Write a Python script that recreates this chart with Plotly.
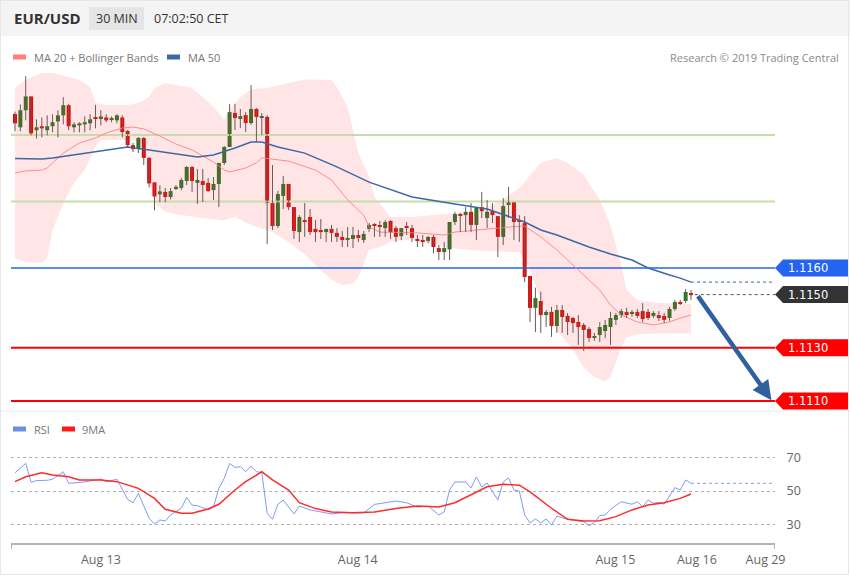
import plotly.graph_objects as go

# ---------------- data ----------------
opens = [1.12179, 1.12129, 1.12193, 1.12245, 1.12118, 1.12133, 1.12118, 1.12133, 1.12151, 1.12174,
         1.12212, 1.12129, 1.12136, 1.12140, 1.12144, 1.12166, 1.12163, 1.12166, 1.12157, 1.12155,
         1.12166, 1.12115, 1.12062, 1.12047, 1.12089, 1.12014, 1.11922, 1.11877, 1.11886, 1.11867,
         1.11897, 1.11901, 1.11927, 1.11980, 1.11920, 1.11927, 1.11920, 1.11893, 1.11916, 1.11995,
         1.12055, 1.12183, 1.12160, 1.12175, 1.12145, 1.12198, 1.12165, 1.12168, 1.11844, 1.11758,
         1.11871, 1.11916, 1.11829, 1.11735, 1.11780, 1.11792, 1.11747, 1.11743, 1.11735, 1.11747,
         1.11732, 1.11717, 1.11709, 1.11709, 1.11724, 1.11705, 1.11747, 1.11765, 1.11760, 1.11750,
         1.11777, 1.11750, 1.11720, 1.11758, 1.11750, 1.11707, 1.11703, 1.11702, 1.11717, 1.11675,
         1.11660, 1.11670, 1.11773, 1.11803, 1.11799, 1.11811, 1.11762, 1.11829, 1.11788, 1.11814,
         1.11795, 1.11717, 1.11837, 1.11848, 1.11777, 1.11769, 1.11570, 1.11450, 1.11476, 1.11423,
         1.11435, 1.11382, 1.11442, 1.11420, 1.11412, 1.11397, 1.11386, 1.11371, 1.11337, 1.11348,
         1.11363, 1.11378, 1.11405, 1.11423, 1.11435, 1.11427, 1.11435, 1.11438, 1.11435, 1.11420,
         1.11423, 1.11420, 1.11412, 1.11446, 1.11472, 1.11476, 1.11506]
highs = [1.12188, 1.12215, 1.12321, 1.12245, 1.12159, 1.12166, 1.12174, 1.12178, 1.12193, 1.12242,
         1.12216, 1.12148, 1.12148, 1.12170, 1.12178, 1.12213, 1.12193, 1.12178, 1.12170, 1.12178,
         1.12174, 1.12119, 1.12070, 1.12092, 1.12092, 1.12017, 1.11922, 1.11911, 1.11901, 1.11901,
         1.11912, 1.11938, 1.11983, 1.11983, 1.11972, 1.11972, 1.11938, 1.11942, 1.11995, 1.12059,
         1.12217, 1.12217, 1.12198, 1.12186, 1.12288, 1.12202, 1.12183, 1.12175, 1.11987, 1.11890,
         1.11946, 1.11916, 1.11829, 1.11799, 1.11844, 1.11822, 1.11780, 1.11784, 1.11747, 1.11762,
         1.11750, 1.11739, 1.11754, 1.11754, 1.11743, 1.11739, 1.11769, 1.11769, 1.11777, 1.11780,
         1.11780, 1.11758, 1.11750, 1.11773, 1.11762, 1.11724, 1.11724, 1.11720, 1.11724, 1.11686,
         1.11698, 1.11773, 1.11811, 1.11807, 1.11829, 1.11844, 1.11829, 1.11886, 1.11856, 1.11844,
         1.11795, 1.11863, 1.11905, 1.11848, 1.11799, 1.11795, 1.11570, 1.11526, 1.11511, 1.11442,
         1.11454, 1.11461, 1.11461, 1.11431, 1.11416, 1.11423, 1.11393, 1.11378, 1.11356, 1.11397,
         1.11405, 1.11435, 1.11431, 1.11446, 1.11450, 1.11442, 1.11446, 1.11468, 1.11446, 1.11438,
         1.11438, 1.11431, 1.11454, 1.11480, 1.11480, 1.11521, 1.11517]
lows = [1.12114, 1.12114, 1.12155, 1.12099, 1.12087, 1.12091, 1.12099, 1.12110, 1.12091, 1.12140,
        1.12118, 1.12110, 1.12110, 1.12110, 1.12118, 1.12125, 1.12136, 1.12148, 1.12148, 1.12144,
        1.12091, 1.12051, 1.12036, 1.12032, 1.11987, 1.11903, 1.11817, 1.11847, 1.11847, 1.11858,
        1.11893, 1.11893, 1.11912, 1.11886, 1.11841, 1.11848, 1.11886, 1.11856, 1.11829, 1.11987,
        1.12055, 1.12119, 1.12126, 1.12111, 1.12138, 1.12074, 1.12100, 1.11690, 1.11743, 1.11750,
        1.11822, 1.11818, 1.11709, 1.11698, 1.11717, 1.11724, 1.11698, 1.11709, 1.11698, 1.11698,
        1.11698, 1.11679, 1.11679, 1.11675, 1.11698, 1.11694, 1.11735, 1.11717, 1.11717, 1.11717,
        1.11709, 1.11698, 1.11705, 1.11724, 1.11698, 1.11679, 1.11679, 1.11694, 1.11655, 1.11630,
        1.11630, 1.11630, 1.11762, 1.11735, 1.11735, 1.11735, 1.11705, 1.11788, 1.11750, 1.11769,
        1.11641, 1.11686, 1.11788, 1.11705, 1.11698, 1.11547, 1.11397, 1.11359, 1.11356, 1.11378,
        1.11341, 1.11356, 1.11356, 1.11348, 1.11356, 1.11311, 1.11288, 1.11322, 1.11326, 1.11322,
        1.11337, 1.11311, 1.11386, 1.11412, 1.11412, 1.11416, 1.11412, 1.11397, 1.11405, 1.11412,
        1.11401, 1.11393, 1.11401, 1.11438, 1.11461, 1.11468, 1.11480]
closes = [1.12144, 1.12193, 1.12245, 1.12106, 1.12129, 1.12125, 1.12133, 1.12148, 1.12174, 1.12212,
          1.12133, 1.12140, 1.12144, 1.12148, 1.12159, 1.12161, 1.12170, 1.12155, 1.12163, 1.12174,
          1.12111, 1.12062, 1.12047, 1.12089, 1.12014, 1.11918, 1.11869, 1.11888, 1.11867, 1.11889,
          1.11905, 1.11931, 1.11980, 1.11927, 1.11931, 1.11912, 1.11889, 1.11916, 1.11995, 1.12055,
          1.12186, 1.12164, 1.12171, 1.12145, 1.12198, 1.12168, 1.12168, 1.11844, 1.11758, 1.11878,
          1.11916, 1.11829, 1.11739, 1.11792, 1.11773, 1.11735, 1.11735, 1.11735, 1.11747, 1.11732,
          1.11717, 1.11705, 1.11713, 1.11724, 1.11713, 1.11728, 1.11762, 1.11758, 1.11756, 1.11773,
          1.11735, 1.11717, 1.11750, 1.11754, 1.11713, 1.11705, 1.11701, 1.11717, 1.11679, 1.11660,
          1.11675, 1.11773, 1.11803, 1.11799, 1.11811, 1.11762, 1.11829, 1.11814, 1.11811, 1.11799,
          1.11717, 1.11833, 1.11848, 1.11773, 1.11773, 1.11566, 1.11450, 1.11487, 1.11423, 1.11435,
          1.11382, 1.11442, 1.11416, 1.11397, 1.11393, 1.11378, 1.11367, 1.11337, 1.11344, 1.11378,
          1.11386, 1.11412, 1.11423, 1.11438, 1.11423, 1.11435, 1.11420, 1.11408, 1.11412, 1.11431,
          1.11412, 1.11405, 1.11446, 1.11472, 1.11465, 1.11510, 1.11498]

# Bollinger bands / moving averages, sampled at bar indices
band_upper_idx = [0, 2, 5, 7, 10, 12, 14, 15, 17, 21, 23, 25, 26, 28, 30, 33, 35, 37, 39, 40, 42, 44, 47,
                  54, 59, 60, 62, 63, 64, 66, 67, 69, 70, 74, 82, 86, 91, 94, 96, 98, 101, 103, 106,
                  109, 111, 113, 114, 116, 120, 126]
band_upper = [1.12277, 1.12307, 1.12333, 1.12333, 1.12318, 1.12307, 1.12280, 1.12220, 1.12213, 1.12213,
              1.12220, 1.12243, 1.12277, 1.12295, 1.12288, 1.12277, 1.12243, 1.12205, 1.12156, 1.12196,
              1.12242, 1.12272, 1.12277, 1.12309, 1.12307, 1.12280, 1.12205, 1.12119, 1.12032, 1.11942,
              1.11867, 1.11818, 1.11792, 1.11792, 1.11807, 1.11811, 1.11856, 1.11901, 1.11950, 1.11995,
              1.12014, 1.11995, 1.11950, 1.11856, 1.11762, 1.11611, 1.11516, 1.11480, 1.11468, 1.11465]
band_lower_idx = [0, 2, 5, 6, 7, 9, 11, 13, 15, 16, 18, 22, 24, 25, 26, 28, 31, 35, 39, 41, 44, 48, 51,
                  54, 56, 59, 61, 63, 64, 65, 66, 68, 70, 74, 80, 86, 94, 95, 96, 98, 101, 104, 106,
                  108, 110, 111, 112, 113, 114, 116, 120, 126]
band_lower = [1.11638, 1.11623, 1.11619, 1.11638, 1.11743, 1.11844, 1.11920, 1.11968, 1.12055, 1.12081,
              1.12081, 1.12081, 1.12062, 1.11922, 1.11844, 1.11811, 1.11799, 1.11788, 1.11780, 1.11792,
              1.11762, 1.11735, 1.11698, 1.11651, 1.11610, 1.11557, 1.11535, 1.11542, 1.11565, 1.11621,
              1.11670, 1.11678, 1.11700, 1.11708, 1.11678, 1.11666, 1.11659, 1.11633, 1.11595, 1.11480,
              1.11366, 1.11294, 1.11227, 1.11189, 1.11174, 1.11189, 1.11245, 1.11302, 1.11339, 1.11351,
              1.11354, 1.11354]
ma20_idx = [0, 2, 5, 6, 7, 9, 12, 15, 17, 20, 22, 24, 27, 30, 33, 35, 37, 39, 40, 43, 45, 46, 48, 51,
            56, 59, 62, 65, 66, 68, 75, 80, 82, 88, 92, 95, 98, 101, 105, 109, 111, 113, 116, 119,
            122, 124, 126]
ma20 = [1.11957, 1.11965, 1.11968, 1.11976, 1.11995, 1.12032, 1.12070, 1.12089, 1.12108, 1.12126,
        1.12130, 1.12123, 1.12096, 1.12066, 1.12044, 1.12021, 1.11998, 1.11968, 1.11961, 1.11976,
        1.11995, 1.12014, 1.12010, 1.12002, 1.11968, 1.11931, 1.11856, 1.11799, 1.11754, 1.11735,
        1.11732, 1.11724, 1.11735, 1.11747, 1.11754, 1.11758, 1.11717, 1.11668, 1.11592, 1.11517,
        1.11461, 1.11423, 1.11397, 1.11386, 1.11397, 1.11412, 1.11423]
ma50_idx = [0, 5, 7, 13, 21, 25, 34, 37, 41, 44, 46, 49, 54, 60, 66, 74, 79, 82, 88, 95, 98, 101, 107,
            111, 115, 118, 122, 124, 126]
ma50 = [1.12012, 1.12010, 1.12014, 1.12032, 1.12055, 1.12044, 1.12017, 1.12025, 1.12051, 1.12074,
        1.12074, 1.12055, 1.12032, 1.11980, 1.11923, 1.11867, 1.11852, 1.11841, 1.11822, 1.11773,
        1.11743, 1.11724, 1.11679, 1.11653, 1.11630, 1.11600, 1.11574, 1.11562, 1.11547]

# RSI panel
rsi_idx = [0, 2, 3, 4, 6, 7, 9, 10, 13, 16, 17, 19, 21, 22, 23, 25, 26, 27, 28, 29, 31, 32, 33, 34, 36,
           37, 38, 39, 40, 41, 42, 43, 44, 45, 46, 47, 48, 49, 50, 52, 53, 55, 57, 59, 61, 63, 65, 67,
           69, 71, 73, 75, 77, 79, 80, 81, 82, 84, 85, 86, 87, 88, 90, 91, 92, 93, 94, 95, 96, 97, 98,
           99, 100, 101, 103, 106, 107, 108, 109, 110, 111, 113, 115, 116, 117, 118, 119, 120, 121,
           122, 123, 124, 125, 126]
rsi = [60.9, 66.5, 55.2, 56.2, 56.4, 57.0, 61.5, 54.6, 55.4, 57.2, 55.6, 57.0, 45.0, 43.0, 48.6, 33.7,
       30.3, 32.7, 32.1, 35.7, 39.7, 46.2, 41.6, 41.2, 38.7, 40.6, 51.6, 57.6, 66.5, 64.1, 64.5, 61.5,
       64.9, 61.5, 61.1, 36.7, 33.1, 42.1, 44.6, 36.3, 41.0, 38.7, 37.5, 36.3, 37.0, 36.9, 36.9, 42.0,
       43.0, 44.0, 43.0, 40.4, 41.0, 35.7, 37.5, 50.6, 55.4, 55.4, 51.8, 58.4, 52.4, 54.8, 44.6, 55.4,
       57.8, 50.6, 50.0, 35.7, 30.9, 33.3, 31.0, 33.3, 29.7, 35.0, 33.1, 31.7, 29.3, 31.3, 35.3, 35.7,
       39.1, 43.6, 42.1, 43.6, 40.6, 44.6, 42.7, 43.3, 42.1, 47.0, 52.0, 50.6, 56.6, 54.6]
rsi_ma_idx = [0, 2, 5, 7, 10, 12, 16, 19, 23, 26, 28, 31, 33, 36, 38, 41, 43, 46, 48, 51, 53, 56, 59,
              63, 67, 71, 75, 79, 82, 85, 88, 91, 94, 96, 98, 100, 103, 106, 109, 112, 115, 118, 121,
              124, 126]
rsi_ma = [55.6, 58.5, 60.9, 59.6, 58.5, 56.6, 56.6, 55.6, 51.6, 45.6, 39.1, 36.7, 36.7, 39.3, 42.1,
          50.6, 55.6, 61.5, 56.6, 50.6, 43.0, 39.5, 37.5, 37.0, 37.5, 39.5, 41.0, 40.5, 43.0, 48.0,
          52.5, 54.0, 53.5, 49.5, 44.5, 39.7, 33.1, 32.1, 32.3, 34.7, 38.7, 41.6, 43.0, 45.6, 48.2]
rsi_levels = [30, 50, 70]

# horizontal levels
support_green = [1.1210, 1.1185]
level_blue = 1.1160
last_price = 1.1150
levels_red = [1.1130, 1.1110]
target = 1.1110

# x-axis date labels (positions in bar-index units)
date_tick_pos = [16.0, 63.9, 111.9, 127.1, 139.9]
date_tick_text = ["Aug 13", "Aug 14", "Aug 15", "Aug 16", "Aug 29"]

# ---------------- layout geometry ----------------
W, H = 850, 576
PL, PR = 11, 775
def xp(p):
    return (p - PL) / (PR - PL)
def yp(p):
    return 1 - p / H

x_range = [-0.746, 141.66]
price_range = [1.110662, 1.123632]
rsi_range = [18.96, 80.45]
MAIN_TOP, MAIN_BOT = 65, 410
RSI_TOP, RSI_BOT = 440, 543
FONT = "Open Sans"

GREEN_LVL = "#c6dcab"
BLUE_LVL = "#2563f2"
RED_LVL = "#ff0000"
MA50_C = "#3d68a6"
MA20_C = "#ff8c8c"
UP_C = "#217c17"
DN_C = "#ee0000"
WICK_C = "#6b5a5a"

n = len(opens)
idx = list(range(n))
fig = go.Figure()

# Bollinger band area
fig.add_trace(go.Scatter(
    x=band_upper_idx + band_lower_idx[::-1], y=band_upper + band_lower[::-1],
    fill="toself", fillcolor="rgba(255,40,40,0.12)", line=dict(width=0),
    mode="lines", hoverinfo="skip", showlegend=False, xaxis="x", yaxis="y"))

def hline(y, color, width, dash="solid", x0=None):
    fig.add_trace(go.Scatter(
        x=[x_range[0] if x0 is None else x0, x_range[1]], y=[y, y], mode="lines",
        line=dict(color=color, width=width, dash=dash), hoverinfo="skip",
        showlegend=False, xaxis="x", yaxis="y"))

for lv in support_green:
    hline(lv, GREEN_LVL, 2)
hline(level_blue, BLUE_LVL, 1.5)
for lv in levels_red:
    hline(lv, RED_LVL, 2)

# moving averages
fig.add_trace(go.Scatter(x=ma20_idx, y=ma20, mode="lines", line=dict(color=MA20_C, width=1),
                         hoverinfo="skip", showlegend=False, xaxis="x", yaxis="y"))
fig.add_trace(go.Scatter(x=ma50_idx, y=ma50, mode="lines", line=dict(color=MA50_C, width=1.5),
                         hoverinfo="skip", showlegend=False, xaxis="x", yaxis="y"))
hline(ma50[-1], MA50_C, 1, "dot", x0=ma50_idx[-1])
hline(last_price, "#555555", 1, "dot", x0=n - 0.3)

# candles: wicks + bodies
wx, wy = [], []
for i in idx:
    wx += [i, i, None]
    wy += [lows[i], highs[i], None]
fig.add_trace(go.Scatter(x=wx, y=wy, mode="lines", line=dict(color=WICK_C, width=1),
                         hoverinfo="skip", showlegend=False, xaxis="x", yaxis="y"))
min_body = 0.00004
bases = [min(o, c) for o, c in zip(opens, closes)]
heights = [max(abs(c - o), min_body) for o, c in zip(opens, closes)]
colors = [UP_C if c >= o else DN_C for o, c in zip(opens, closes)]
fig.add_trace(go.Bar(x=idx, y=heights, base=bases, width=0.74, marker=dict(color=colors, line=dict(width=0)),
                     hoverinfo="skip", showlegend=False, xaxis="x", yaxis="y"))

# RSI panel
fig.add_trace(go.Scatter(x=rsi_idx, y=rsi, mode="lines", line=dict(color="#7f9df0", width=1),
                         hoverinfo="skip", showlegend=False, xaxis="x2", yaxis="y2"))
fig.add_trace(go.Scatter(x=[rsi_idx[-1], x_range[1]], y=[rsi[-1], rsi[-1]], mode="lines",
                         line=dict(color="#7f9df0", width=1, dash="dot"),
                         hoverinfo="skip", showlegend=False, xaxis="x2", yaxis="y2"))
fig.add_trace(go.Scatter(x=rsi_ma_idx, y=rsi_ma, mode="lines", line=dict(color="#ff2a2a", width=1.5),
                         hoverinfo="skip", showlegend=False, xaxis="x2", yaxis="y2"))

shapes = []
annotations = []

# header band
shapes.append(dict(type="rect", xref="paper", yref="paper", x0=xp(0), x1=xp(W), y0=yp(36), y1=yp(0),
                   fillcolor="#f4f4f4", line=dict(width=0), layer="below"))
shapes.append(dict(type="rect", xref="paper", yref="paper", x0=xp(89), x1=xp(144), y0=yp(30), y1=yp(7),
                   fillcolor="#e5e5e5", line=dict(width=0), layer="below"))
# separator between panels
shapes.append(dict(type="line", xref="paper", yref="paper", x0=xp(0), x1=xp(W), y0=yp(411), y1=yp(411),
                   line=dict(color="#ececec", width=1)))
# outer frame
shapes.append(dict(type="rect", xref="paper", yref="paper", x0=xp(0.5), x1=xp(W - 1.5), y0=yp(H - 1.5), y1=yp(0.5),
                   line=dict(color="#e6e6e6", width=1), fillcolor="rgba(0,0,0,0)"))
# axis end ticks
for xv in x_range:
    shapes.append(dict(type="line", xref="x2", yref="paper", x0=xv, x1=xv, y0=yp(RSI_BOT), y1=yp(RSI_BOT + 6),
                       line=dict(color="#b3b3b3", width=2)))

# price tags
ppx = (price_range[1] - price_range[0]) / (MAIN_BOT - MAIN_TOP)
hh = 8.5 * ppx
tags = [(level_blue, BLUE_LVL), (last_price, "#333333")] + [(lv, RED_LVL) for lv in levels_red]
for lv, col in tags:
    path = (f"M {xp(775)},{lv} L {xp(783)},{lv + hh} L {xp(848)},{lv + hh} "
            f"L {xp(848)},{lv - hh} L {xp(783)},{lv - hh} Z")
    shapes.append(dict(type="path", xref="paper", yref="y", path=path, fillcolor=col, line=dict(width=0)))
    annotations.append(dict(x=xp(786), y=lv, xref="paper", yref="y", xanchor="left", yanchor="middle",
                            text=f"{lv:.4f}", showarrow=False,
                            font=dict(family="DejaVu Sans", size=11.5, color="white")))

# forecast arrow
annotations.append(dict(x=141.0, y=target + 0.00003, xref="x", yref="y", ax=n + 0.1, ay=last_price,
                        axref="x", ayref="y", text="", showarrow=True, arrowhead=2, arrowsize=0.85,
                        arrowwidth=4.5, arrowcolor="#2f61a0", standoff=0))

# header texts
annotations += [
    dict(x=xp(12), y=yp(18), xref="paper", yref="paper", xanchor="left", yanchor="middle", showarrow=False,
         text="<b>EUR/USD</b>", font=dict(family=FONT, size=15, color="#333333")),
    dict(x=xp(116.5), y=yp(18.5), xref="paper", yref="paper", xanchor="center", yanchor="middle", showarrow=False,
         text="30 MIN", font=dict(family=FONT, size=12.5, color="#333333")),
    dict(x=xp(152), y=yp(18.5), xref="paper", yref="paper", xanchor="left", yanchor="middle", showarrow=False,
         text="07:02:50 CET", font=dict(family=FONT, size=12.5, color="#333333")),
    dict(x=xp(841), y=yp(57), xref="paper", yref="paper", xanchor="right", yanchor="middle", showarrow=False,
         text="Research © 2019 Trading Central", font=dict(family=FONT, size=11, color="#8a8a8a")),
]

# legends
def legend_item(x_sw, x_txt, y, color, text):
    shapes.append(dict(type="rect", xref="paper", yref="paper", x0=xp(x_sw), x1=xp(x_sw + 13),
                       y0=yp(y + 2.5), y1=yp(y - 2.5), fillcolor=color, line=dict(width=0)))
    annotations.append(dict(x=xp(x_txt), y=yp(y), xref="paper", yref="paper", xanchor="left", yanchor="middle",
                            showarrow=False, text=text, font=dict(family=FONT, size=11, color="#777777")))

legend_item(13, 32, 57, "#ff7f7f", "MA 20 + Bollinger Bands")
legend_item(167, 186, 57, "#3d68a6", "MA 50")
legend_item(13, 32, 429, "#6d8ee8", "RSI")
legend_item(62, 80, 429, "#ff1a1a", "9MA")

fig.update_layout(
    width=W, height=H, margin=dict(l=PL, r=W - PR, t=0, b=0),
    paper_bgcolor="white", plot_bgcolor="white", barmode="overlay", showlegend=False,
    xaxis=dict(domain=[0, 1], range=x_range, visible=False, anchor="y"),
    yaxis=dict(domain=[yp(MAIN_BOT), yp(MAIN_TOP)], range=price_range, visible=False, anchor="x"),
    xaxis2=dict(domain=[0, 1], range=x_range, anchor="y2", showline=True, linecolor="#b3b3b3", linewidth=2,
                showgrid=False, zeroline=False, tickvals=date_tick_pos, ticktext=date_tick_text,
                ticks="outside", ticklen=4, tickcolor="rgba(0,0,0,0)",
                tickfont=dict(family=FONT, size=12.5, color="#666666")),
    yaxis2=dict(domain=[yp(RSI_BOT), yp(RSI_TOP)], range=rsi_range, anchor="x2", side="right",
                tickvals=rsi_levels, showgrid=True, griddash="dot", gridcolor="#b0b0b0", gridwidth=1,
                zeroline=False, showline=False, ticks="outside", ticklen=8, tickcolor="rgba(0,0,0,0)",
                tickfont=dict(family=FONT, size=12.5, color="#666666")),
    shapes=shapes, annotations=annotations,
)

fig.write_html("out.html", config={"displayModeBar": False},
               post_script="document.body.style.margin='0';document.body.style.overflow='hidden';")
